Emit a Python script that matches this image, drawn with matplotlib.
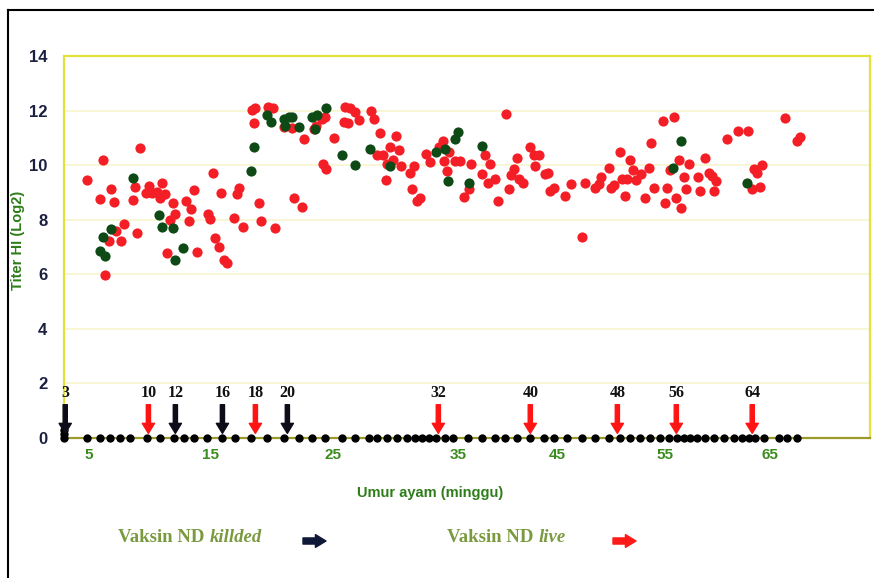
import matplotlib
matplotlib.use("Agg")
import matplotlib.pyplot as plt
import numpy as np
from matplotlib.patches import FancyArrowPatch
from matplotlib.lines import Line2D

# Titer HI (log2) against bird age (weeks)
red_week = [9.26, 6.17, 4.89, 6.86, 5.93, 7.07, 8.63, 8.83, 9.94, 9.75, 10.22, 10.63, 11.04, 11.31,
            10.84, 11.94, 12.13, 11.72, 13.03, 13.40, 13.22, 7.95, 7.30, 6.66, 7.70, 8.99, 11.45, 6.39,
            18.39, 18.66, 19.69, 20.07, 18.52, 20.96, 21.64, 22.64, 23.40, 15.19, 13.63, 15.89, 17.36,
            17.17, 18.93, 21.77, 22.46, 14.81, 15.00, 16.95, 17.63, 19.15, 20.22, 15.41, 15.67, 16.08,
            16.36, 13.91,
            24.07, 24.34, 23.60, 25.96, 26.36, 26.76, 27.02, 25.82, 26.14, 28.02, 28.28, 25.02, 28.70,
            30.04, 29.56, 30.22, 24.17, 24.37, 28.50, 28.98, 29.30, 29.78, 30.42, 31.48, 31.16, 29.24,
            31.30, 31.70, 31.90, 32.44, 32.76, 33.42,
            33.74, 34.28, 33.82, 34.76, 35.20, 34.10, 36.31, 37.73, 38.23, 37.39, 38.00, 38.74, 36.11,
            35.54, 39.85, 39.01, 40.93, 40.59, 40.35, 40.08, 41.16, 41.49, 42.27, 42.61, 43.18, 42.78,
            43.79, 44.06, 44.29, 44.63, 45.74,
            46.27, 47.53, 47.29, 48.52, 48.82, 49.05, 49.75, 49.97, 50.21, 50.77, 51.30, 50.99, 51.45,
            51.69, 52.01, 52.31, 52.75, 53.15, 53.45, 53.68, 53.98, 54.79, 55.79, 55.16, 55.00, 56.05,
            56.52, 56.27, 55.41, 57.22, 56.81, 57.00,
            58.81, 58.11, 59.12, 59.45, 59.83, 58.33, 59.60, 60.88, 61.92, 62.88, 63.41, 63.73, 64.21,
            63.26, 64.05, 66.43, 67.54, 67.86]
red_titer = [10.63, 10.19, 9.46, 9.13, 8.76, 8.64, 8.71, 9.20, 9.24, 8.98, 8.98, 9.00, 9.36, 8.96,
             8.79, 8.60, 8.20, 7.98, 8.69, 8.40, 7.95, 7.86, 7.58, 7.22, 7.22, 7.53, 6.79, 5.99,
             12.02, 12.10, 12.12, 12.10, 11.53, 11.39, 11.36, 10.96, 11.32, 9.71, 9.09, 8.97, 9.15,
             8.96, 8.60, 8.79, 8.47, 8.20, 8.01, 8.08, 7.75, 7.95, 7.71, 7.34, 7.00, 6.54,
             6.40, 6.83,
             11.69, 11.75, 11.44, 12.12, 12.10, 11.94, 11.65, 11.57, 11.53, 12.00, 11.69, 10.99, 11.17,
             11.08, 10.67, 10.55, 10.04, 9.85, 10.38, 10.38, 10.04, 10.18, 9.97, 9.97, 9.73, 9.45,
             9.12, 8.67, 8.81, 10.40, 10.10, 10.65,
             10.89, 10.47, 10.16, 10.16, 10.16, 9.79, 10.04, 10.38, 10.06, 9.69, 9.33, 9.49, 9.12,
             8.83, 11.88, 8.69, 10.26, 9.85, 9.63, 9.14, 9.49, 9.36, 10.67, 10.38, 10.38, 9.97,
             9.67, 9.71, 9.06, 9.15, 8.87,
             9.30, 9.34, 7.36, 9.15, 9.30, 9.57, 9.89, 9.18, 9.28, 10.50, 8.87, 9.49, 9.49,
             10.18, 9.82, 9.45, 9.69, 8.81, 9.89, 10.81, 9.15, 11.63, 11.78, 9.15, 8.60, 8.79,
             8.44, 10.18, 9.82, 10.06, 9.55, 9.12,
             10.28, 9.57, 9.73, 9.61, 9.42, 9.06, 9.06, 10.96, 11.24, 11.24, 9.85, 9.73, 10.00,
             9.12, 9.20, 11.72, 10.89, 11.02]

green_week = [8.63, 10.76, 11.04, 11.94, 6.86, 6.17, 5.93, 6.39, 12.76, 12.13,
              18.52, 18.33, 19.64, 19.92, 20.96, 21.37, 21.64, 21.06, 22.20, 23.23,
              23.68, 24.39, 23.50, 25.70, 26.76, 27.90, 29.50, 33.24,
              34.76, 34.98, 33.96, 37.39, 34.18, 36.04,
              56.52, 55.73, 62.78]
green_titer = [9.52, 8.17, 7.75, 7.71, 7.65, 7.36, 6.85, 6.67, 6.97, 6.52,
               10.65, 9.79, 11.85, 11.57, 11.69, 11.75, 11.78, 11.44, 11.39, 11.78,
               11.85, 12.10, 11.32, 10.37, 10.01, 10.59, 9.97, 10.47,
               10.96, 11.20, 10.59, 10.69, 9.42, 9.36,
               10.89, 9.89, 9.33]

# sampling ages (black dots on the zero line)
base_week = [3.0, 3.0, 3.0, 4.89, 5.98, 6.80, 7.62, 8.44, 9.81, 10.84, 11.99, 12.81, 13.63, 14.73,
             15.95, 17.03, 18.31, 19.61, 20.96, 22.18, 23.27, 24.35, 25.70, 26.76, 27.82, 28.50,
             29.30, 30.10, 30.90, 31.56, 32.12, 32.68, 33.24, 33.96, 34.60, 36.01, 37.39, 38.74,
             39.75, 40.93, 42.27, 43.62, 44.63, 45.90, 47.29, 48.52, 49.75, 50.83, 51.76, 52.69,
             53.61, 54.54, 55.31, 56.11, 56.74, 57.38, 58.02, 58.81, 59.60, 60.55, 61.50, 62.30,
             62.93, 63.57, 64.36, 65.79, 66.59, 67.54]
base_titer = [0.0, 0.15, 0.3] + [0.0] * (len(base_week) - 3)

# vaccinations
killed_label = [3, 12, 16, 20]
killed_week = [3.1, 12.13, 15.98, 21.26]
live_label = [10, 18, 32, 40, 48, 56, 64]
live_week = [9.92, 18.66, 33.40, 42.27, 50.56, 56.05, 63.28]

# irregular category axis of the original
tick_week = [-10, 5, 15, 25, 35, 45, 55, 65, 90]
tick_pos = [-95, 88, 210, 333, 458, 557, 665, 770, 1032.5]


def fwd(x):
    return np.interp(x, tick_week, tick_pos)


def inv(p):
    return np.interp(p, tick_pos, tick_week)


RED = "#f41f26"
GREEN = "#0e4a16"
BLACK_ARROW = "#0d0d1a"
LBL_GREEN = "#3b8c1f"

fig = plt.figure(figsize=(8.74, 5.78), dpi=100)
ax = fig.add_axes([64 / 874, 1 - 438 / 578, 806 / 874, 382 / 578])
ax.set_xscale("function", functions=(fwd, inv))
ax.set_xlim(3.0, 74.5)
ax.set_ylim(0, 14)

for y in range(2, 14, 2):
    ax.axhline(y, color="#f7f5cc", lw=1.2, zorder=0)

ax.scatter(red_week, red_titer, s=54, color=RED, zorder=3, linewidths=0)
ax.scatter(green_week, green_titer, s=54, color=GREEN, zorder=4, linewidths=0)
ax.scatter(base_week, base_titer, s=36, color="black", zorder=5, linewidths=0, clip_on=False)

style = "simple,head_length=0.36,head_width=0.44,tail_width=0.15"
for wk, lb in zip(killed_week, killed_label):
    ax.add_patch(FancyArrowPatch((wk, 1.22), (wk, 0.17), arrowstyle=style, mutation_scale=20,
                                 color=BLACK_ARROW, shrinkA=0, shrinkB=0, zorder=6, clip_on=False))
    ax.text(wk, 1.64, str(lb), ha="center", va="center", fontsize=11.5, fontweight="bold",
            family="Liberation Serif", color="#111111")
for wk, lb in zip(live_week, live_label):
    ax.add_patch(FancyArrowPatch((wk, 1.22), (wk, 0.17), arrowstyle=style, mutation_scale=20,
                                 color="#ff1414", shrinkA=0, shrinkB=0, zorder=6, clip_on=False))
    ax.text(wk, 1.64, str(lb), ha="center", va="center", fontsize=11.5, fontweight="bold",
            family="Liberation Serif", color="#111111")

for side in ["left", "top", "right"]:
    ax.spines[side].set_color("#e2e23c")
    ax.spines[side].set_linewidth(1.6)
ax.spines["bottom"].set_color("#9c9a2a")
ax.spines["bottom"].set_linewidth(1.6)

ax.set_yticks(range(0, 15, 2))
ax.set_xticks([5, 15, 25, 35, 45, 55, 65])
ax.set_xticks([], minor=True)
ax.tick_params(axis="y", length=0, pad=12, labelsize=12, labelcolor="#1c2040")
ax.tick_params(axis="x", length=0, pad=7, labelsize=11, labelcolor=LBL_GREEN)
for t in ax.get_xticklabels() + ax.get_yticklabels():
    t.set_fontweight("bold")
    t.set_family("Liberation Sans")

fig.text(18 / 874, 1 - 240 / 578, "Titer HI (Log2)", rotation=90, ha="center", va="center",
         fontsize=10.5, fontweight="bold", color="#2f7d1a", family="Liberation Sans")
fig.text(430 / 874, 1 - 493 / 578, "Umur ayam (minggu)", ha="center", va="center",
         fontsize=10.5, fontweight="bold", color="#2f7d1a", family="Liberation Sans")

# legend below the chart
renderer = fig.canvas.get_renderer()
OLIVE = "#7a9a40"
for x0, word, arr_x, arr_c in [(118, "killded", 303, "#101838"), (447, "live", 613, "#ff1a1a")]:
    t = fig.text(x0 / 874, 1 - 538 / 578, "Vaksin ND", ha="left", va="center", fontsize=13.5,
                 fontweight="bold", family="Liberation Serif", color=OLIVE)
    bb = t.get_window_extent(renderer)
    fig.text((bb.x1 + 5) / 874, 1 - 538 / 578, word, ha="left", va="center", fontsize=13.5,
             fontweight="bold", fontstyle="italic", family="Liberation Serif", color=OLIVE)
    fig.add_artist(FancyArrowPatch((arr_x / 874, 1 - 541 / 578), ((arr_x + 23) / 874, 1 - 541 / 578),
                                   transform=fig.transFigure,
                                   arrowstyle="simple,head_length=0.38,head_width=0.46,tail_width=0.22",
                                   mutation_scale=20, color=arr_c, shrinkA=0, shrinkB=0))

# frame around the whole picture
fig.add_artist(Line2D([8 / 874, 1], [1 - 10 / 578, 1 - 10 / 578], transform=fig.transFigure,
                      color="black", lw=1.5))
fig.add_artist(Line2D([8 / 874, 8 / 874], [0, 1 - 10 / 578], transform=fig.transFigure,
                      color="black", lw=1.5))

fig.savefig("out.png", dpi=100)
